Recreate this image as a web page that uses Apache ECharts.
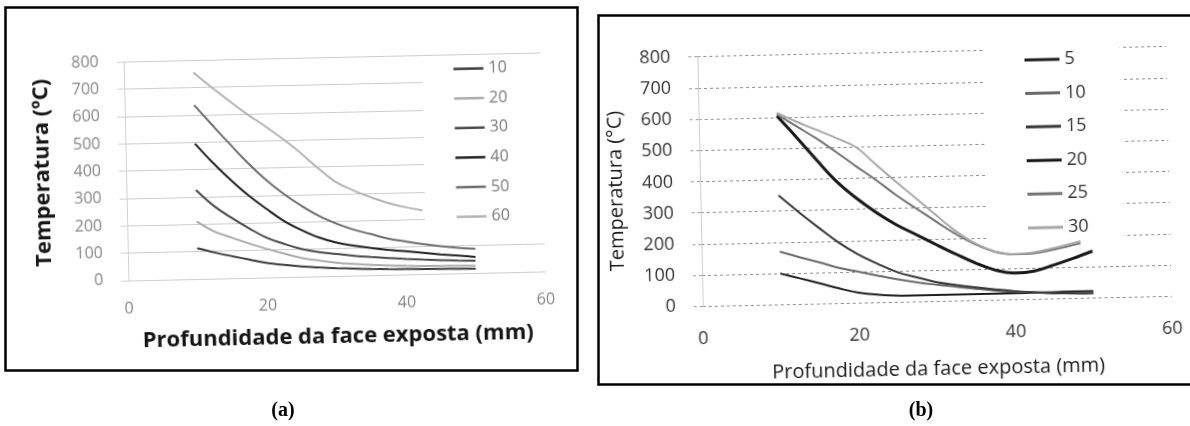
<!DOCTYPE html>
<html><head><meta charset="utf-8">
<script src="https://cdn.jsdelivr.net/npm/echarts@6.0.0/dist/echarts.min.js"></script>
<style>
html,body{margin:0;padding:0;background:#fff;}
body{width:1190px;height:426px;position:relative;overflow:hidden;}
#bg{position:absolute;left:0;top:0;width:1190px;height:426px;}
#ca{position:absolute;left:0;top:0;width:590px;height:426px;transform:rotate(-1.25deg);transform-origin:334.5px 166.5px;}
#cb{position:absolute;left:590px;top:0;width:600px;height:426px;transform:rotate(-1.25deg);transform-origin:344.5px 176.5px;}
</style></head><body>
<div id="bg"></div><div id="ca"></div><div id="cb"></div>
<script>
// ---------- Panel (a) data ----------
const xsA = [10, 12.5, 15, 17.5, 20, 22.5, 25, 27.5, 30, 32.5, 35, 37.5, 40, 42.5, 45, 47.5, 50];
const namesA = ['10', '20', '30', '40', '50', '60'];
const a10 = [112, 95, 80, 66, 52, 44, 37, 32, 28, 25, 22, 20, 19, 18, 17, 16, 15];
const a20 = [210, 172, 148, 125, 104, 85, 68, 57, 48, 42, 37, 34, 31, 29, 28, 27, 26];
const a30 = [325, 266, 221, 181, 145, 121, 101, 88, 80, 72, 66, 61, 56, 52, 49, 46, 44];
const a40 = [495, 424, 360, 302, 252, 206, 171, 142, 122, 109, 99, 91, 84, 77, 70, 64, 58];
const a50 = [636, 563, 491, 421, 359, 306, 261, 222, 192, 168, 150, 132, 120, 109, 100, 93, 88];
const a60 = [755, 701, 650, 600, 556, 508, 456, 398, 346, 313, 286, 263, 246, 233, null, null, null];
const xTicksA = [0, 20, 40, 60];
const yTicksA = [0, 100, 200, 300, 400, 500, 600, 700, 800];

// ---------- Panel (b) data ----------
const xsB = [10, 12.5, 15, 17.5, 20, 22.5, 25, 27.5, 30, 32.5, 35, 37.5, 40, 42.5, 45, 47.5, 50];
const xsBupper = [10, 12.5, 15, 17.5, 20, 22.5, 25, 27.5, 30, 32.5, 35, 37.5, 40, 42.5, 45, 48.5];
const namesB = ['5', '10', '15', '20', '25', '30'];
const b5  = [100, 83, 66, 48, 33, 25, 21, 20, 20, 20, 20, 20, 20, 21, 21, 22, 22];
const b10 = [170, 151, 133, 114, 100, 86, 73, 62, 53, 45, 37, 30, 25, 21, 18, 16, 15];
const b15 = [350, 296, 245, 196, 156, 124, 96, 78, 61, 51, 42, 34, 27, 22, 18, 16, 15];
const b20 = [605, 534, 460, 390, 335, 288, 248, 215, 182, 150, 120, 96, 85, 90, 108, 128, 150];
const b25 = [610, 570, 530, 485, 438, 393, 344, 300, 257, 215, 180, 155, 145, 147, 157, 176];
const b30 = [615, 585, 558, 530, 500, 443, 387, 333, 278, 225, 183, 156, 146, 150, 162, 183];

const FONT = '"Open Sans", "DejaVu Sans", sans-serif';

function pts(xs, ys) {
  const out = [];
  xs.forEach((x, i) => { if (ys[i] !== null && ys[i] !== undefined) out.push([x, ys[i]]); });
  return out;
}

// ---------- background: frames and captions ----------
const bg = echarts.init(document.getElementById('bg'), null, {renderer: 'canvas'});
bg.setOption({
  animation: false,
  graphic: [
    {type: 'rect', shape: {x: 5.5, y: 7.5, width: 572, height: 363}, style: {fill: 'none', stroke: '#000', lineWidth: 2.5}},
    {type: 'rect', shape: {x: 598.5, y: 15.5, width: 640, height: 369}, style: {fill: 'none', stroke: '#000', lineWidth: 2.5}},
    {type: 'text', x: 283, y: 411, style: {text: '(a)', align: 'center', verticalAlign: 'middle', textAlign: 'center', textVerticalAlign: 'middle', fontSize: 20, fontWeight: 'bold', fontFamily: '"Liberation Serif", serif', fill: '#000'}},
    {type: 'text', x: 921, y: 411, style: {text: '(b)', align: 'center', verticalAlign: 'middle', textAlign: 'center', textVerticalAlign: 'middle', fontSize: 20, fontWeight: 'bold', fontFamily: '"Liberation Serif", serif', fill: '#000'}}
  ]
});

// ---------- chart (a) ----------
const colorsA = ['#3c3c3c', '#ababab', '#4a4a4a', '#222222', '#6e6e6e', '#b4b4b4'];
const seriesAvals = [a10, a20, a30, a40, a50, a60];
const ca = echarts.init(document.getElementById('ca'), null, {renderer: 'canvas'});
ca.setOption({
  animation: false,
  backgroundColor: 'transparent',
  textStyle: {fontFamily: FONT},
  grid: {left: 126, top: 57.3, width: 417, height: 218.5, containLabel: false},
  legend: {
    orient: 'vertical', left: 424, top: 61,
    icon: 'rect', itemWidth: 30, itemHeight: 2.5, itemGap: 13.6,
    padding: [2.6, 37, 8.3, 31.5],
    backgroundColor: '#ffffff',
    data: namesA,
    textStyle: {fontSize: 16, lineHeight: 16, color: '#777777', fontFamily: FONT}
  },
  xAxis: {
    type: 'value', min: xTicksA[0], max: xTicksA[xTicksA.length - 1], interval: 20,
    axisLine: {show: false}, axisTick: {show: false}, splitLine: {show: false},
    axisLabel: {margin: 21, fontSize: 16, color: '#858585', fontFamily: FONT},
    name: 'Profundidade da face exposta (mm)', nameLocation: 'middle', nameGap: 50,
    nameTextStyle: {fontSize: 22, fontWeight: 'bold', color: '#151515', fontFamily: FONT}
  },
  yAxis: {
    type: 'value', min: yTicksA[0], max: yTicksA[yTicksA.length - 1], interval: 100,
    axisLine: {show: true, lineStyle: {color: '#d2d2d2', width: 1}},
    axisTick: {show: true, length: 7, lineStyle: {color: '#cfcfcf'}},
    splitLine: {show: true, lineStyle: {color: '#cdcdcd', width: 1}},
    axisLabel: {margin: 25, fontSize: 16, color: '#858585', fontFamily: FONT},
    name: 'Temperatura (ºC)', nameLocation: 'middle', nameGap: 72, nameRotate: 90,
    nameTextStyle: {fontSize: 22, fontWeight: 'bold', color: '#151515', fontFamily: FONT}
  },
  series: namesA.map((n, i) => ({
    name: n, type: 'line', smooth: 0.4, symbol: 'none', z: 5,
    lineStyle: {color: colorsA[i], width: 2},
    itemStyle: {color: colorsA[i]},
    data: pts(xsA, seriesAvals[i])
  }))
});

// ---------- chart (b) ----------
const colorsB = ['#1e1e1e', '#6a6a6a', '#383838', '#181818', '#737373', '#a8a8a8'];
const widthsB = [2, 2, 2, 3, 2, 2];
const seriesBvals = [b5, b10, b15, b20, b25, b30];
const seriesBxs = [xsB, xsB, xsB, xsB, xsBupper, xsBupper];
const cb = echarts.init(document.getElementById('cb'), null, {renderer: 'canvas'});
cb.setOption({
  animation: false,
  backgroundColor: 'transparent',
  textStyle: {fontFamily: FONT},
  grid: {left: 110, top: 51.7, width: 469, height: 249.6, containLabel: false},
  legend: {
    orient: 'vertical', left: 397.6, top: 44,
    icon: 'rect', itemWidth: 35, itemHeight: 3, itemGap: 15.6,
    padding: [8.9, 35, 10.9, 39.4],
    backgroundColor: '#ffffff',
    data: namesB,
    textStyle: {fontSize: 18, lineHeight: 18, color: '#333333', fontFamily: FONT}
  },
  xAxis: {
    type: 'value', min: 0, max: 60, interval: 20,
    axisLine: {show: false}, axisTick: {show: false}, splitLine: {show: false},
    axisLabel: {margin: 24, fontSize: 18, color: '#333333', fontFamily: FONT},
    name: 'Profundidade da face exposta (mm)', nameLocation: 'middle', nameGap: 57.7,
    nameTextStyle: {fontSize: 20, color: '#1a1a1a', fontFamily: FONT}
  },
  yAxis: {
    type: 'value', min: 0, max: 800, interval: 100,
    axisLine: {show: true, lineStyle: {color: '#cfcfcf', width: 1}},
    axisTick: {show: true, length: 10, lineStyle: {color: '#9a9a9a', type: [3, 3]}},
    splitLine: {show: true, lineStyle: {color: '#8f8f8f', width: 1, type: [3, 3]}},
    axisLabel: {margin: 27, fontSize: 18, color: '#333333', fontFamily: FONT},
    name: 'Temperatura (°C)', nameLocation: 'middle', nameGap: 73.3, nameRotate: 90,
    nameTextStyle: {fontSize: 20, color: '#1a1a1a', fontFamily: FONT, padding: [0, 15, 0, 0]}
  },
  series: namesB.map((n, i) => ({
    name: n, type: 'line', smooth: 0.4, symbol: 'none', z: 5,
    lineStyle: {color: colorsB[i], width: widthsB[i]},
    itemStyle: {color: colorsB[i]},
    data: pts(seriesBxs[i], seriesBvals[i])
  }))
});
</script></body></html>
